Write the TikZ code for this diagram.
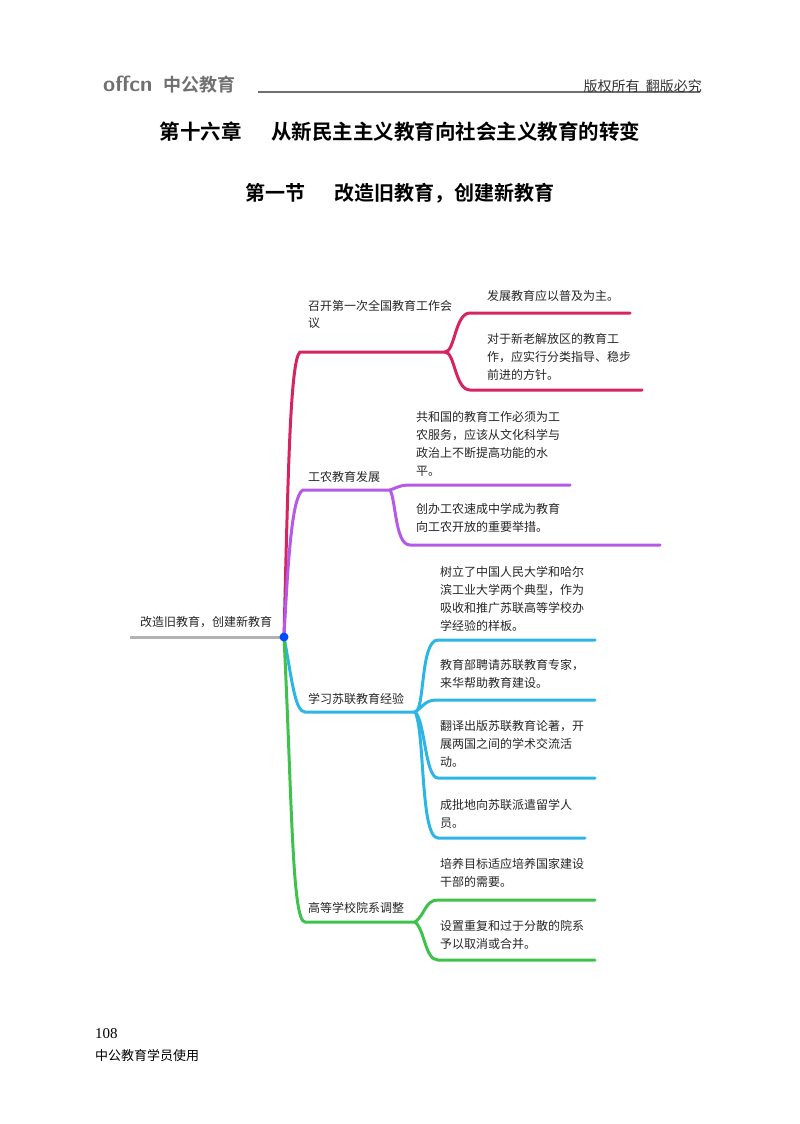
\documentclass[tikz,border=0pt]{standalone}
\usepackage{fontspec}
\setmainfont{Liberation Serif}
\newfontfamily\cjk{Noto Sans CJK SC}
\newfontfamily\cjkb{Noto Sans CJK SC Bold}
\definecolor{cR}{HTML}{D6245E}
\definecolor{cP}{HTML}{B45AE8}
\definecolor{cB}{HTML}{2DB5E6}
\definecolor{cG}{HTML}{3FC24C}
\definecolor{hdr}{HTML}{707070}
\tikzset{
 br/.style={line width=3pt,line cap=round},
 leaf/.style={anchor=north west,align=left,inner sep=0pt,font=\cjk\fontsize{12}{18}\selectfont,text=black!85},
 lab/.style={anchor=base west,align=left,inner sep=0pt,font=\cjk\fontsize{12}{17}\selectfont,text=black!85}
}
\begin{document}
\begin{tikzpicture}[x=1pt,y=-1pt]
\useasboundingbox (0,0) rectangle (800,1124);
% header
\node[anchor=base west,inner sep=0pt,font=\fontfamily{}\sffamily\bfseries\fontsize{22}{22}\selectfont,text=hdr] (logo) at (103,92) {offcn};
\node[anchor=base west,inner sep=0pt,font=\cjkb\fontsize{18}{18}\selectfont,text=hdr] (brand) at (163,92) {中公教育};
\coordinate (hl1) at (258,92); \coordinate (hl2) at (700,92);
\draw[hdr,line width=1.2pt] (hl1) -- (hl2);
\node[anchor=base east,inner sep=0pt,font=\cjk\fontsize{14}{14}\selectfont,text=black!80] (copy) at (702,91) {版权所有\ \ 翻版必究};
\node[inner sep=0pt,font=\cjkb\fontsize{20.5}{20.5}\selectfont] (title) at (400,132) {第十六章\quad\ \ 从新民主主义教育向社会主义教育的转变};
\node[inner sep=0pt,font=\cjkb\fontsize{20}{20}\selectfont] (sect) at (400,193) {第一节\quad\ \ 改造旧教育，创建新教育};
% root
\coordinate (r0) at (130,637); \coordinate (hub) at (284,637);
\draw[black!30,line width=3pt] (r0) -- (hub);
\node[lab] (root) at (140,626) {改造旧教育，创建新教育};
% branch 1
\coordinate (a1) at (300,352); \coordinate (a2) at (445,352);
\coordinate (a3) at (470,313); \coordinate (a4) at (630,313);
\coordinate (a5) at (470,390); \coordinate (a6) at (642,390);
\draw[br,cR] (hub) .. controls (288,480) and (290,360) .. (a1) -- (a2);
\draw[br,cR] (a2) .. controls (455,352) and (455,313) .. (a3) -- (a4);
\draw[br,cR] (a2) .. controls (455,352) and (455,390) .. (a5) -- (a6);
\node[lab] (l1) at (308,327) {召开第一次全国教育工作会\\议};
\node[leaf] (t11) at (487,290) {发展教育应以普及为主。};
\node[leaf] (t12) at (487,333) {对于新老解放区的教育工\\作，应实行分类指导、稳步\\前进的方针。};
% branch 2
\coordinate (b1) at (303,490); \coordinate (b2) at (390,490);
\coordinate (b3) at (410,485); \coordinate (b4) at (570,485);
\coordinate (b5) at (410,545); \coordinate (b6) at (660,545);
\draw[br,cP] (hub) .. controls (288,560) and (292,495) .. (b1) -- (b2);
\draw[br,cP] (b2) .. controls (396,488) and (400,485) .. (b3) -- (b4);
\draw[br,cP] (b2) .. controls (396,500) and (395,545) .. (b5) -- (b6);
\node[lab] (l2) at (308,481) {工农教育发展};
\node[leaf] (t21) at (416,411) {共和国的教育工作必须为工\\农服务，应该从文化科学与\\政治上不断提高功能的水\\平。};
\node[leaf] (t22) at (416,503) {创办工农速成中学成为教育\\向工农开放的重要举措。};
% branch 3
\coordinate (c1) at (305,712); \coordinate (c2) at (415,712);
\coordinate (c3) at (438,640); \coordinate (c4) at (595,640);
\coordinate (c5) at (438,700); \coordinate (c6) at (595,700);
\coordinate (c7) at (438,778); \coordinate (c8) at (595,778);
\coordinate (c9) at (438,838); \coordinate (c10) at (585,838);
\draw[br,cB] (hub) .. controls (292,680) and (295,712) .. (c1) -- (c2);
\draw[br,cB] (c2) .. controls (425,712) and (420,640) .. (c3) -- (c4);
\draw[br,cB] (c2) .. controls (425,705) and (425,700) .. (c5) -- (c6);
\draw[br,cB] (c2) .. controls (425,720) and (425,778) .. (c7) -- (c8);
\draw[br,cB] (c2) .. controls (425,730) and (420,838) .. (c9) -- (c10);
\node[lab] (l3) at (308,703) {学习苏联教育经验};
\node[leaf] (t31) at (440,566) {树立了中国人民大学和哈尔\\滨工业大学两个典型，作为\\吸收和推广苏联高等学校办\\学经验的样板。};
\node[leaf] (t32) at (440,659) {教育部聘请苏联教育专家，\\来华帮助教育建设。};
\node[leaf] (t33) at (440,720) {翻译出版苏联教育论著，开\\展两国之间的学术交流活\\动。};
\node[leaf] (t34) at (440,799) {成批地向苏联派遣留学人\\员。};
% branch 4
\coordinate (d1) at (305,922); \coordinate (d2) at (415,922);
\coordinate (d3) at (438,900); \coordinate (d4) at (595,900);
\coordinate (d5) at (438,960); \coordinate (d6) at (595,960);
\draw[br,cG] (hub) .. controls (292,800) and (292,922) .. (d1) -- (d2);
\draw[br,cG] (d2) .. controls (425,915) and (425,900) .. (d3) -- (d4);
\draw[br,cG] (d2) .. controls (425,930) and (425,960) .. (d5) -- (d6);
\node[lab] (l4) at (308,912) {高等学校院系调整};
\node[leaf] (t41) at (440,858) {培养目标适应培养国家建设\\干部的需要。};
\node[leaf] (t42) at (440,920) {设置重复和过于分散的院系\\予以取消或合并。};
\fill[blue!70!cyan] (hub) circle (4.5pt);
% footer
\node[anchor=base west,inner sep=0pt,font=\fontsize{15}{15}\selectfont] (pg) at (95,1038) {108};
\node[anchor=base west,inner sep=0pt,font=\cjk\fontsize{13}{13}\selectfont] (use) at (95,1060) {中公教育学员使用};
\end{tikzpicture}
\end{document}
